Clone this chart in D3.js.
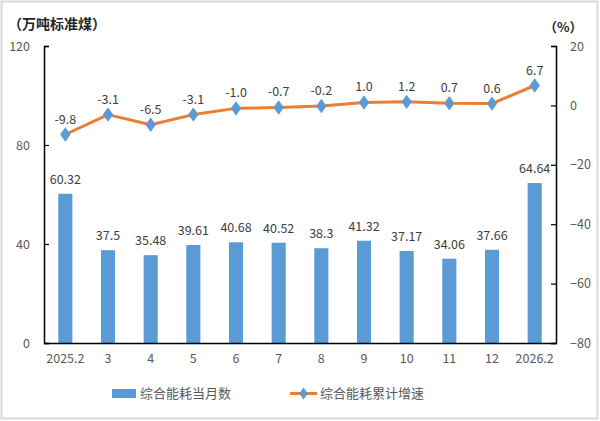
<!DOCTYPE html>
<html><head><meta charset="utf-8">
<script src="https://cdn.jsdelivr.net/npm/d3@7"></script>
<style>
html,body{margin:0;padding:0;background:#fff;}
text{font-family:"Noto Sans CJK SC","Noto Sans",sans-serif;}
</style></head>
<body><svg id="c" width="600" height="421"></svg>
<script>
const categories = ["2025.2","3","4","5","6","7","8","9","10","11","12","2026.2"];
const monthly = [60.32,37.5,35.48,39.61,40.68,40.52,38.3,41.32,37.17,34.06,37.66,64.64];
const growth = [-9.8,-3.1,-6.5,-3.1,-1.0,-0.7,-0.2,1.0,1.2,0.7,0.6,6.7];
const leftTicks = [0,40,80,120];
const rightTicks = [20,0,-20,-40,-60,-80];
const barName = "综合能耗当月数";
const lineName = "综合能耗累计增速";
const leftTitle = "（万吨标准煤）";
const rightTitle = "（%）";

const svg = d3.select("#c");
const L = 44, R = 556, T = 46, B = 343;
const blue = "#5B9BD5", orange = "#ED7D31", txt = "#404040", tick = "#595959";

svg.append("rect").attr("x",1.5).attr("y",1.5).attr("width",596).attr("height",417)
  .attr("fill","#fff").attr("stroke","#d9d9d9").attr("stroke-width",2);

const x = d3.scaleBand().domain(categories).range([L,R]).paddingInner(0.67).paddingOuter(0.335);
const xc = d => x(d) + x.bandwidth()/2;
const yL = d3.scaleLinear().domain([0,120]).range([B,T]);
const yR = d3.scaleLinear().domain([-80,20]).range([B,T]);

// bars
svg.selectAll("rect.bar").data(monthly).enter().append("rect")
  .attr("x",(d,i)=>x(categories[i])).attr("width",x.bandwidth())
  .attr("y",d=>yL(d)).attr("height",d=>B-yL(d)).attr("fill",blue);
svg.selectAll("text.bl").data(monthly).enter().append("text")
  .attr("x",(d,i)=>xc(categories[i])).attr("y",d=>yL(d)-10)
  .attr("text-anchor","middle").attr("font-size",12.5).attr("fill",txt).text(d=>String(d));

// axes
const axL = d3.axisLeft(yL).tickValues(leftTicks).tickSize(-5).tickPadding(14);
const gL = svg.append("g").attr("transform",`translate(${L},0)`).call(axL);
const axR = d3.axisRight(yR).tickValues(rightTicks).tickSize(-5).tickPadding(14);
const gR = svg.append("g").attr("transform",`translate(${R},0)`).call(axR);
[gL,gR].forEach(g=>{
  g.select(".domain").attr("stroke","#000").attr("stroke-width",1.5);
  g.selectAll(".tick line").attr("stroke","#000").attr("stroke-width",1.2);
  g.selectAll(".tick text").attr("fill",tick).attr("font-size",12.5)
   .style("font-family",'"Noto Sans CJK SC",sans-serif');
});
const axB = d3.axisBottom(x).tickSize(0).tickPadding(11);
const gB = svg.append("g").attr("transform",`translate(0,${B})`).call(axB);
gB.select(".domain").attr("stroke","#000").attr("stroke-width",1.5);
gB.selectAll(".tick text").attr("fill",tick).attr("font-size",12.5)
  .style("font-family",'"Noto Sans CJK SC",sans-serif');

// line
const line = d3.line().x((d,i)=>xc(categories[i])).y(d=>yR(d));
svg.append("path").datum(growth).attr("d",line).attr("fill","none")
  .attr("stroke",orange).attr("stroke-width",3).attr("stroke-linejoin","round");
const diamond = d3.symbol().type(d3.symbolDiamond).size(60);
svg.selectAll("path.mk").data(growth).enter().append("path")
  .attr("d",diamond).attr("fill",blue)
  .attr("transform",(d,i)=>`translate(${xc(categories[i])},${yR(d)}) scale(1.25,1)`);
svg.selectAll("text.ll").data(growth).enter().append("text")
  .attr("x",(d,i)=>xc(categories[i])).attr("y",d=>yR(d)-11)
  .attr("text-anchor","middle").attr("font-size",12.5).attr("fill",txt).text(d=>d.toFixed(1));

// titles
svg.append("text").attr("x",8).attr("y",29).attr("font-size",14).attr("font-weight","bold")
  .attr("fill","#262626").text(leftTitle);
svg.append("text").attr("x",544).attr("y",32).attr("font-size",13).attr("font-weight","bold")
  .attr("fill","#262626").text(rightTitle);

// legend
svg.append("rect").attr("x",112).attr("y",389).attr("width",24).attr("height",9).attr("fill",blue);
svg.append("text").attr("x",140).attr("y",398).attr("font-size",13).attr("fill",tick).text(barName);
svg.append("line").attr("x1",290).attr("x2",317).attr("y1",393.5).attr("y2",393.5)
  .attr("stroke",orange).attr("stroke-width",3);
svg.append("path").attr("d",d3.symbol().type(d3.symbolDiamond).size(40)).attr("fill",blue)
  .attr("transform","translate(303.5,393.5) scale(1.25,1)");
svg.append("text").attr("x",320).attr("y",398).attr("font-size",13).attr("fill",tick).text(lineName);
</script></body></html>
